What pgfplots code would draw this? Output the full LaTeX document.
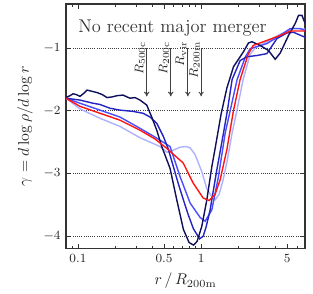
\documentclass[border=0pt]{standalone}
\usepackage{pgfplots}
\pgfplotsset{compat=1.18}
\usetikzlibrary{arrows.meta}
\definecolor{cnavy}{rgb}{0.06,0.06,0.36}
\definecolor{cdblue}{rgb}{0.14,0.14,0.76}
\definecolor{cmblue}{rgb}{0.30,0.30,1.00}
\definecolor{clblue}{rgb}{0.68,0.70,1.00}
\definecolor{cred}{rgb}{1.00,0.08,0.08}
\begin{document}
\begin{tikzpicture}
\begin{axis}[name=ax,
  width=153.2pt, height=156.4pt, scale only axis,
  xmode=log, xmin=0.08, xmax=7, ymin=-4.19, ymax=-0.3,
  xtick={0.1,0.5,1,5}, xticklabels={0.1,0.5,1,5},
  minor xtick={0.09,0.2,0.3,0.4,0.6,0.7,0.8,0.9,2,3,4,6,7},
  ytick={-1,-2,-3,-4},
  ymajorgrids, major grid style={densely dotted, black!75, line width=0.5pt},
  tick pos=both, tick align=inside,
  major tick length=3pt, minor tick length=1.6pt,
  every tick/.style={black!80, line width=0.5pt},
  tick label style={font=\footnotesize, black!85},
  axis line style={black!80, line width=0.9pt},
  xlabel={$r\,/\,R_{\rm 200m}$}, ylabel={$\gamma = d\log\rho/d\log r$},
  label style={font=\normalsize, black!85},
  every axis plot/.append style={line width=0.9pt, mark=none},
]
% light blue
\addplot[clblue] coordinates {(0.0799,-1.80) (0.1038,-1.97) (0.1510,-2.12) (0.2195,-2.25) (0.3192,-2.43) (0.4642,-2.57) (0.5262,-2.66) (0.5598,-2.65) (0.6749,-2.58) (0.7551,-2.57) (0.8141,-2.59) (0.8938,-2.70) (1.0132,-2.97) (1.1125,-3.24) (1.2218,-3.37) (1.2996,-3.42) (1.4004,-3.33) (1.5096,-3.10) (1.6271,-2.80) (1.7865,-2.35) (1.9510,-2.00) (2.1948,-1.50) (2.5027,-1.10) (2.7479,-1.00) (3.4400,-0.90) (4.3870,-0.78) (5.5976,-0.69) (7.0,-0.70)};
% medium blue
\addplot[cmblue] coordinates {(0.0799,-1.80) (0.1038,-1.88) (0.1510,-1.99) (0.2195,-2.10) (0.3192,-2.28) (0.4227,-2.42) (0.4642,-2.47) (0.5598,-2.57) (0.6749,-3.05) (0.8141,-3.47) (0.9815,-3.70) (1.0778,-3.76) (1.2218,-3.58) (1.3824,-3.05) (1.5671,-2.36) (1.7211,-2.00) (1.9622,-1.50) (2.2787,-1.15) (2.5027,-1.01) (3.4200,-0.93) (4.3870,-0.80) (5.2922,-0.69) (6.3807,-0.69) (7.0,-0.72)};
% dark blue
\addplot[cdblue] coordinates {(0.0799,-1.80) (0.1038,-1.83) (0.1324,-1.88) (0.1510,-1.90) (0.1820,-1.96) (0.2195,-1.99) (0.2800,-2.01) (0.3377,-2.04) (0.3849,-2.10) (0.4363,-2.20) (0.4938,-2.41) (0.5392,-2.60) (0.5953,-2.89) (0.6501,-3.15) (0.7180,-3.42) (0.7840,-3.65) (0.8658,-3.88) (0.9723,-4.04) (1.0382,-4.00) (1.0982,-3.85) (1.1834,-3.58) (1.3416,-2.94) (1.5181,-2.36) (1.6362,-1.99) (1.7865,-1.50) (2.0750,-1.20) (2.3523,-1.14) (2.8365,-1.12) (3.4200,-1.09) (4.1257,-0.85) (4.9754,-0.76) (5.6290,-0.75) (7.0,-0.83)};
% navy
\addplot[cnavy] coordinates {(0.0799,-1.79) (0.0861,-1.76) (0.0911,-1.73) (0.0963,-1.74) (0.1038,-1.77) (0.1119,-1.72) (0.1183,-1.67) (0.1300,-1.69) (0.1427,-1.71) (0.1567,-1.74) (0.1721,-1.79) (0.1890,-1.78) (0.2075,-1.76) (0.2322,-1.75) (0.2503,-1.78) (0.2647,-1.80) (0.2906,-1.79) (0.3192,-1.83) (0.3618,-1.91) (0.3973,-2.10) (0.4363,-2.31) (0.4792,-2.57) (0.5598,-2.92) (0.6344,-3.42) (0.7180,-3.89) (0.7988,-4.10) (0.8690,-4.14) (0.9279,-4.08) (1.0132,-3.84) (1.1125,-3.42) (1.2218,-2.89) (1.2996,-2.60) (1.4541,-2.05) (1.6180,-1.64) (1.8306,-1.30) (2.0750,-1.14) (2.2074,-1.06) (2.4244,-0.92) (2.5837,-0.90) (3.0181,-0.96) (3.5246,-1.04) (3.9966,-1.18) (4.3870,-1.08) (5.1270,-0.80) (5.8090,-0.61) (6.1812,-0.48) (6.5869,-0.48) (7.0,-0.61)};
% red
\addplot[cred] coordinates {(0.0799,-1.80) (0.1038,-1.93) (0.1510,-2.04) (0.2195,-2.15) (0.3192,-2.31) (0.4227,-2.45) (0.5262,-2.60) (0.7140,-2.83) (0.8610,-3.15) (1.0382,-3.39) (1.1614,-3.43) (1.2996,-3.33) (1.4271,-3.10) (1.6180,-2.62) (1.8306,-2.00) (2.0750,-1.50) (2.4106,-1.10) (2.6475,-0.96) (3.4200,-0.88) (4.3870,-0.80) (5.2922,-0.73) (7.0,-0.73)};
% annotations
\node[anchor=west, font=\fontsize{11.8}{14}\selectfont, black!80, inner sep=0pt] at (rel axis cs:0.05,0.9) {No recent major merger};
\foreach \xx in {0.362, 0.567, 0.78, 1.0} {
  \edef\tmp{\noexpand\draw[-{To[length=3pt,width=3.5pt]}, black!75, line width=0.6pt] (axis cs:\xx,-1.0) -- (axis cs:\xx,-1.77);}
  \tmp
}
\node[rotate=90, anchor=south east, font=\fontsize{8.5}{10}\selectfont, black!85, inner sep=0.8pt] at (axis cs:0.362,-0.87) {$R_{\rm 500c}$};
\node[rotate=90, anchor=south east, font=\fontsize{8.5}{10}\selectfont, black!85, inner sep=0.8pt] at (axis cs:0.567,-0.87) {$R_{\rm 200c}$};
\node[rotate=90, anchor=south east, font=\fontsize{8.5}{10}\selectfont, black!85, inner sep=0.8pt] at (axis cs:0.78,-0.87) {$R_{\rm vir}$};
\node[rotate=90, anchor=south east, font=\fontsize{8.5}{10}\selectfont, black!85, inner sep=0.8pt] at (axis cs:1.0,-0.87) {$R_{\rm 200m}$};
\end{axis}
\path ([shift={(-42.3pt,-28.8pt)}]ax.south west) rectangle ([shift={(5pt,2.6pt)}]ax.north east);
\end{tikzpicture}
\end{document}
